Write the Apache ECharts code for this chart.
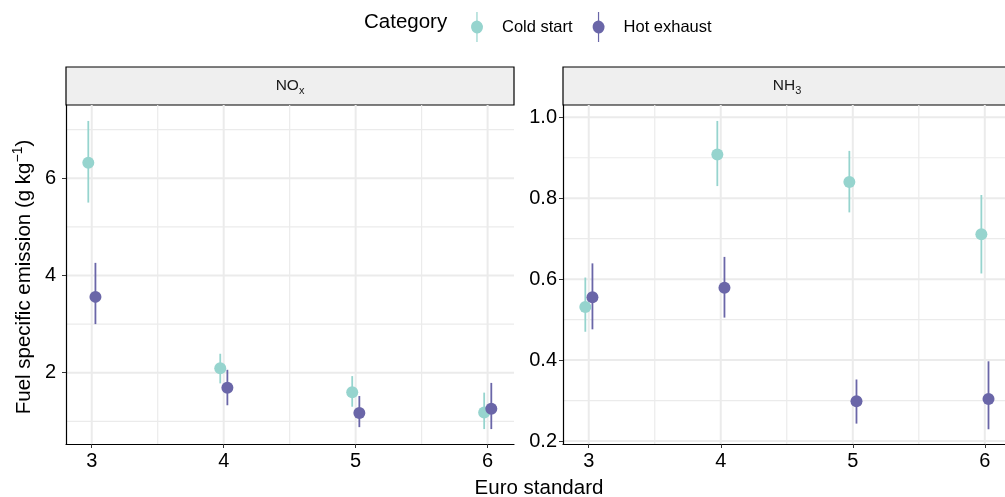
<!DOCTYPE html>
<html><head><meta charset="utf-8">
<script src="https://cdn.jsdelivr.net/npm/echarts@6/dist/echarts.min.js"></script>
<style>html,body{margin:0;padding:0;background:#fff}#c{width:1005px;height:497px}</style>
</head><body><div id="c"></div>
<script>
const euro = [3, 4, 5, 6];
const categories = ['Cold start', 'Hot exhaust'];
const panels = ['NOx', 'NH3'];
// NOx
const noxColdMean = [6.32, 2.09, 1.60, 1.18];
const noxColdLow  = [5.50, 1.78, 1.30, 0.84];
const noxColdHigh = [7.18, 2.39, 1.93, 1.59];
const noxHotMean  = [3.56, 1.69, 1.17, 1.26];
const noxHotLow   = [3.00, 1.33, 0.88, 0.84];
const noxHotHigh  = [4.26, 2.06, 1.52, 1.79];
// NH3
const nh3ColdMean = [0.531, 0.908, 0.840, 0.711];
const nh3ColdLow  = [0.470, 0.830, 0.765, 0.614];
const nh3ColdHigh = [0.604, 0.991, 0.917, 0.808];
const nh3HotMean  = [0.555, 0.579, 0.298, 0.304];
const nh3HotLow   = [0.476, 0.505, 0.243, 0.229];
const nh3HotHigh  = [0.639, 0.655, 0.352, 0.397];
// tick labels
const noxTicks = [2, 4, 6];
const noxMinor = [1, 3, 5, 7];
const nh3Ticks = [0.2, 0.4, 0.6, 0.8, 1.0];
const nh3Minor = [0.3, 0.5, 0.7, 0.9];
const xMinor = [3.5, 4.5, 5.5];

const colors = ['#96D4CE', '#6A66A8'];
const dodge = [-0.026, 0.028];
const FONT = 'Liberation Sans, Arial, sans-serif';

const chart = echarts.init(document.getElementById('c'), null, {renderer: 'canvas'});

const grids = [
  {left: 66, top: 105, width: 448, height: 339},
  {left: 563, top: 105, width: 442, height: 339}
];
const xRanges = [[2.805, 6.2], [2.805, 6.153]];
const yRanges = [[0.533, 7.508], [0.1926, 1.0304]];

function xAxisFor(gi) {
  return {
    type: 'value', gridIndex: gi, min: xRanges[gi][0], max: xRanges[gi][1],
    axisLine: {show: true, onZero: false, lineStyle: {color: '#000', width: 1.2}},
    axisTick: {show: true, length: 4, customValues: euro, lineStyle: {color: '#333', width: 1}},
    axisLabel: {customValues: euro, color: '#000', fontSize: 20, fontFamily: FONT, margin: 7,
      formatter: v => String(Math.round(v))},
    splitLine: {show: false}
  };
}
function yAxisFor(gi, ticks, dec, margin) {
  return {
    type: 'value', gridIndex: gi, min: yRanges[gi][0], max: yRanges[gi][1],
    axisLine: {show: true, onZero: false, lineStyle: {color: '#000', width: 1.2}},
    axisTick: {show: true, length: 4, customValues: ticks, lineStyle: {color: '#333', width: 1}},
    axisLabel: {customValues: ticks, color: '#000', fontSize: 20, fontFamily: FONT, margin: margin,
      formatter: v => dec ? v.toFixed(1) : String(Math.round(v))},
    splitLine: {show: false}
  };
}

function gridLines(gi, yMajor, yMinor) {
  const items = [];
  euro.forEach(v => items.push(['x', v, 2]));
  xMinor.forEach(v => items.push(['x', v, 1.2]));
  yMajor.forEach(v => items.push(['y', v, 2]));
  yMinor.forEach(v => items.push(['y', v, 1.2]));
  return {
    type: 'custom', xAxisIndex: gi, yAxisIndex: gi, silent: true, z: 0,
    data: items, clip: true,
    renderItem: (params, api) => {
      const d = items[params.dataIndex];
      const cs = params.coordSys;
      let shape;
      if (d[0] === 'x') {
        const p = api.coord([d[1], yRanges[gi][0]]);
        shape = {x1: p[0], y1: cs.y, x2: p[0], y2: cs.y + cs.height};
      } else {
        const p = api.coord([xRanges[gi][0], d[1]]);
        shape = {x1: cs.x, y1: p[1], x2: cs.x + cs.width, y2: p[1]};
      }
      return {type: 'line', shape, style: {stroke: '#EBEBEB', lineWidth: d[2]}};
    }
  };
}

function errSeries(gi, ci, low, high) {
  const data = euro.map((e, i) => [e + dodge[ci], low[i], high[i]]);
  return {
    type: 'custom', name: categories[ci], xAxisIndex: gi, yAxisIndex: gi, z: 3,
    data, encode: {x: 0, y: [1, 2]},
    itemStyle: {color: colors[ci]},
    renderItem: (params, api) => {
      const a = api.coord([api.value(0), api.value(1)]);
      const b = api.coord([api.value(0), api.value(2)]);
      return {type: 'line', shape: {x1: a[0], y1: a[1], x2: b[0], y2: b[1]},
        style: {stroke: colors[ci], lineWidth: 1.8}};
    }
  };
}
function ptSeries(gi, ci, mean) {
  return {
    type: 'scatter', name: categories[ci], xAxisIndex: gi, yAxisIndex: gi, z: 4,
    symbol: 'circle', symbolSize: 12,
    itemStyle: {color: colors[ci], opacity: 1},
    data: euro.map((e, i) => [e + dodge[ci], mean[i]])
  };
}

const legendIcon = 'path://M6.4,0 L7.6,0 L7.6,8.6 A6.5,6.5 0 0 1 7.6,21.4 L7.6,30 L6.4,30 L6.4,21.4 A6.5,6.5 0 0 1 6.4,8.6 Z';

const option = {
  backgroundColor: '#fff',
  animation: false,
  grid: grids.map(g => Object.assign({containLabel: false}, g)),
  xAxis: [xAxisFor(0), xAxisFor(1)],
  yAxis: [yAxisFor(0, noxTicks, false, 10), yAxisFor(1, nh3Ticks, true, 6)],
  legend: {
    top: 7, left: 466, itemGap: 20, itemWidth: 14, itemHeight: 30,
    icon: legendIcon,
    textStyle: {fontSize: 16.5, fontFamily: FONT, color: '#000', padding: [0, 0, 0, 13]},
    data: categories
  },
  graphic: [
    {type: 'text', x: 364, y: 22, style: {text: 'Category', font: '20.5px ' + FONT, fill: '#000', verticalAlign: 'middle'}},
    {type: 'rect', shape: {x: 66, y: 67, width: 448, height: 38}, style: {fill: '#EFEFEF', stroke: '#000', lineWidth: 1.2}},
    {type: 'rect', shape: {x: 563, y: 67, width: 448, height: 38}, style: {fill: '#EFEFEF', stroke: '#000', lineWidth: 1.2}},
    {type: 'text', x: 290, y: 86, style: {
      text: '{m|NO}{s|x}', align: 'center', verticalAlign: 'middle',
      rich: {m: {fontSize: 15.5, fontFamily: FONT, fill: '#1a1a1a'}, s: {fontSize: 11, fontFamily: FONT, fill: '#1a1a1a', padding: [9, 0, 0, 0]}}}},
    {type: 'text', x: 787, y: 86, style: {
      text: '{m|NH}{s|3}', align: 'center', verticalAlign: 'middle',
      rich: {m: {fontSize: 15.5, fontFamily: FONT, fill: '#1a1a1a'}, s: {fontSize: 11, fontFamily: FONT, fill: '#1a1a1a', padding: [9, 0, 0, 0]}}}},
    {type: 'text', x: 539, y: 488, style: {text: 'Euro standard', font: '20.5px ' + FONT, fill: '#000', align: 'center', verticalAlign: 'middle'}},
    {type: 'text', x: 24, y: 277, rotation: Math.PI / 2, style: {
      text: '{m|Fuel specific emission (g kg}{s|−1}{m|)}', align: 'center', verticalAlign: 'middle',
      rich: {m: {fontSize: 20.5, fontFamily: FONT, fill: '#000'}, s: {fontSize: 14, fontFamily: FONT, fill: '#000', padding: [0, 0, 12, 0]}}}}
  ],
  series: [
    gridLines(0, noxTicks, noxMinor),
    gridLines(1, nh3Ticks, nh3Minor),
    errSeries(0, 0, noxColdLow, noxColdHigh),
    errSeries(0, 1, noxHotLow, noxHotHigh),
    errSeries(1, 0, nh3ColdLow, nh3ColdHigh),
    errSeries(1, 1, nh3HotLow, nh3HotHigh),
    ptSeries(0, 0, noxColdMean),
    ptSeries(0, 1, noxHotMean),
    ptSeries(1, 0, nh3ColdMean),
    ptSeries(1, 1, nh3HotMean)
  ]
};
chart.setOption(option);
</script>
</body></html>
